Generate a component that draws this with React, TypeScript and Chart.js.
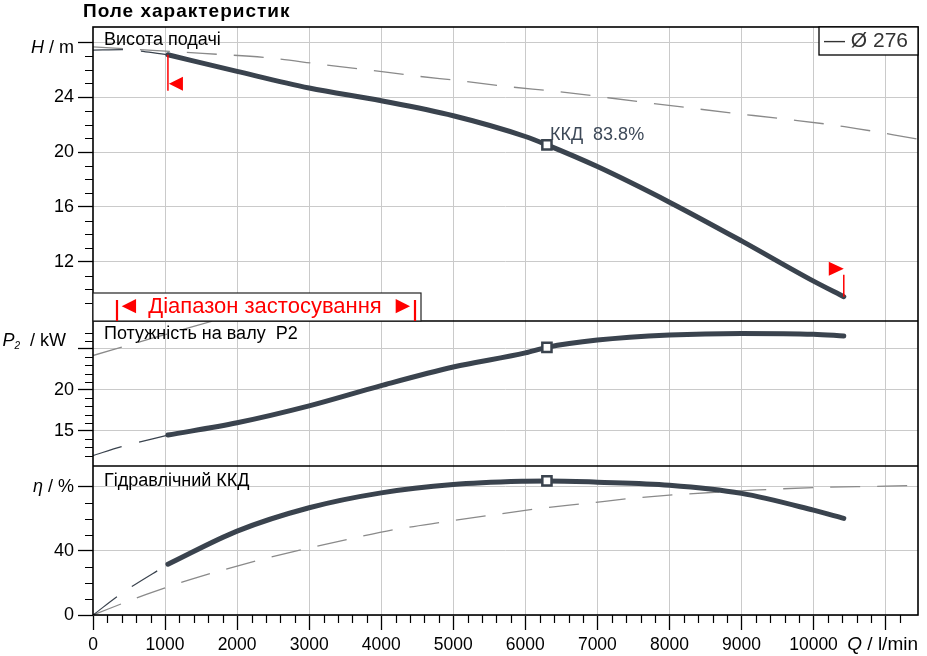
import React, { useEffect, useRef } from 'react';
import Chart from 'chart.js/auto';

// operating curve, flow in l/min
const flowMain = [1040, 2000, 3000, 4000, 5000, 6000, 6300, 7000, 8000, 9000, 10000, 10420];
const headMain = [27.08, 25.87, 24.66, 23.73, 22.64, 21.13, 20.52, 18.94, 16.35, 13.53, 10.6, 9.47];
const powerMain = [14.5, 16.0, 18.06, 20.53, 22.8, 24.52, 25.2, 26.08, 26.7, 26.9, 26.8, 26.58];
const effMain = [31.7, 52.4, 67.0, 76.3, 81.5, 83.6, 83.8, 83.0, 81.1, 76.0, 65.5, 60.4];

// thin dashed continuation down to zero flow
const flowExt = [0, 400, 1040];
const headExt = [27.42, 27.45, 27.08];
const powerExt = [12.0, 13.1, 14.5];
const effExt = [0, 13.6, 31.7];

// grey dashed reference curves
const flowRefHead = [0, 1520, 2470, 3140, 3800, 4460, 5120, 5780, 6440, 7550, 8200, 8850, 9560, 10430, 11450];
const headRef = [27.65, 27.18, 26.84, 26.4, 25.99, 25.55, 25.17, 24.75, 24.41, 23.68, 23.26, 22.85, 22.42, 21.85, 20.93];
const flowRefPower = [0, 800, 1660];
const powerRef = [24.2, 26.25, 28.4];
const flowRefEff = [0, 740, 1370, 2270, 2910, 3560, 4200, 4880, 5540, 6190, 6840, 7500, 8200, 9170, 10110, 11000, 11450];
const effRef = [0, 12.9, 22.4, 33.9, 41.0, 47.5, 53.5, 58.2, 62.5, 66.5, 69.7, 73.0, 75.5, 78.0, 79.8, 80.5, 81.1];

const dutyFlow = 6300;
const dutyLabel = 'ККД  83.8%';
const diameterLabel = '— Ø 276';

const xTickLabels = [0, 1000, 2000, 3000, 4000, 5000, 6000, 7000, 8000, 9000, 10000];
const headTickLabels = [8, 12, 16, 20, 24];
const powerTickLabels = [15, 20];
const effTickLabels = [0, 40];

const FONT = '"Liberation Sans", Arial, Helvetica, sans-serif';
const DARK = '#3a434e';
const GREY = '#8a8a8a';
const GRID = '#cacaca';
const RED = '#ff0000';
const CLEAR = 'rgba(0,0,0,0)';

const onStep = (v: number, step: number) => Math.abs(v / step - Math.round(v / step)) < 1e-6;
const pts = (xs: number[], ys: number[]) => xs.map((x, i) => ({ x, y: ys[i] }));

const panelScale = (min: number, max: number, step: number, major: number, labels: number[], weight: number, stackWeight: number) => ({
    type: 'linear',
    position: 'left',
    stack: 'panels',
    stackWeight,
    weight,
    min,
    max,
    afterFit: (s: any) => { s.width = 93; },
    border: { display: false },
    grid: {
        color: (c: any) => (c.tick && onStep(c.tick.value, major) ? GRID : CLEAR),
        tickColor: (c: any) => (c.tick && onStep(c.tick.value, major) ? '#000' : CLEAR),
        tickLength: 15,
        tickWidth: 1.3,
        lineWidth: 1,
    },
    ticks: {
        stepSize: step,
        autoSkip: false,
        padding: 4,
        color: '#000',
        font: { family: FONT, size: 18 },
        callback: (v: any) => (labels.includes(v) ? String(v) : ''),
    },
});

const mainLine = (data: any[], yAxisID: string) => ({
    data, yAxisID, borderColor: DARK, borderWidth: 5, borderCapStyle: 'round', borderJoinStyle: 'round',
    pointRadius: 0, cubicInterpolationMode: 'monotone', order: 2,
});
const extLine = (data: any[], yAxisID: string) => ({
    data, yAxisID, borderColor: DARK, borderWidth: 1.2, borderDash: [30, 18],
    pointRadius: 0, cubicInterpolationMode: 'monotone', order: 3,
});
const refLine = (data: any[], yAxisID: string) => ({
    data, yAxisID, borderColor: GREY, borderWidth: 1.3, borderDash: [30, 17],
    pointRadius: 0, cubicInterpolationMode: 'monotone', order: 4,
});
const marker = (x: number, y: number, yAxisID: string) => ({
    data: [{ x, y }], yAxisID, showLine: false, pointStyle: 'rect', pointRadius: 6.5, pointBorderWidth: 2.5,
    pointBorderColor: DARK, pointBackgroundColor: '#fff', order: 1,
});

// draws text pieces with different fonts, right aligned
function drawParts(ctx: CanvasRenderingContext2D, parts: [string, string, number][], right: number, base: number) {
    let w = 0;
    for (const [t, f] of parts) { ctx.font = f; w += ctx.measureText(t).width; }
    let x = right - w;
    ctx.textAlign = 'left';
    for (const [t, f, dy] of parts) {
        ctx.font = f;
        ctx.fillText(t, x, base + dy);
        x += ctx.measureText(t).width;
    }
}

const overlay = {
    id: 'overlay',
    afterDraw(chart: any) {
        const { ctx, chartArea: a } = chart;
        const xs = chart.scales.x, yH = chart.scales.yH, yP = chart.scales.yP, yE = chart.scales.yE;
        ctx.save();

        // minor tick marks
        ctx.strokeStyle = '#000';
        ctx.lineWidth = 1.2;
        ctx.beginPath();
        for (const t of xs.ticks) {
            if (!onStep(t.value, 200) || onStep(t.value, 1000)) continue;
            const p = Math.round(xs.getPixelForValue(t.value)) + 0.5;
            ctx.moveTo(p, a.bottom); ctx.lineTo(p, a.bottom + 8);
        }
        for (const [s, step, major] of [[yH, 1, 4], [yP, 1, 5], [yE, 10, 40]] as any[]) {
            for (const t of s.ticks) {
                if (!onStep(t.value, step) || onStep(t.value, major)) continue;
                const p = Math.round(s.getPixelForValue(t.value)) + 0.5;
                ctx.moveTo(s.right - 8, p); ctx.lineTo(s.right, p);
            }
        }
        ctx.stroke();

        // panel separators and frame
        ctx.lineWidth = 1.3;
        ctx.beginPath();
        ctx.moveTo(a.left, yP.top); ctx.lineTo(a.right, yP.top);
        ctx.moveTo(a.left, yE.top); ctx.lineTo(a.right, yE.top);
        ctx.stroke();
        ctx.lineWidth = 1.6;
        ctx.strokeRect(a.left, a.top, a.right - a.left, a.bottom - a.top);

        // title
        ctx.fillStyle = '#000';
        ctx.textBaseline = 'alphabetic';
        ctx.textAlign = 'left';
        ctx.font = `bold 19px ${FONT}`;
        ctx.letterSpacing = '1px';
        ctx.fillText('Поле характеристик', a.left - 10, a.top - 10);
        ctx.letterSpacing = '0px';

        // panel labels
        ctx.font = `18px ${FONT}`;
        ctx.fillText('Висота подачі', a.left + 11, yH.top + 18);
        ctx.fillText('Потужність на валу  P2', a.left + 11, yP.top + 18);
        ctx.fillText('Гідравлічний ККД', a.left + 11, yE.top + 20);

        // axis titles
        const it = `italic 18px ${FONT}`, nf = `18px ${FONT}`;
        drawParts(ctx, [['H', it, 0], [' / m', nf, 0]], 74, yH.top + 26);
        drawParts(ctx, [['P', it, 0], ['2', `italic 10px ${FONT}`, 3], ['  / kW', nf, 0]], 66, yP.top + 25);
        drawParts(ctx, [['η', it, 0], [' / %', nf, 0]], 74, yE.top + 26);
        drawParts(ctx, [['Q', `italic 19px ${FONT}`, 0], [' / l/min', `19px ${FONT}`, 0]], a.right, a.bottom + 35);

        // diameter legend
        ctx.fillStyle = '#fff';
        ctx.fillRect(a.right - 99, a.top, 99, 28);
        ctx.strokeStyle = '#000';
        ctx.lineWidth = 1.3;
        ctx.strokeRect(a.right - 99, a.top, 99, 28);
        ctx.fillStyle = '#333';
        ctx.font = `21px ${FONT}`;
        ctx.textAlign = 'left';
        ctx.fillText(diameterLabel, a.right - 94, a.top + 20);

        // operating range box
        const bx = a.left, by = yP.top - 28, bw = 328, bh = 28;
        ctx.fillStyle = '#fff';
        ctx.fillRect(bx, by, bw, bh);
        ctx.strokeStyle = '#222';
        ctx.lineWidth = 1.2;
        ctx.strokeRect(bx, by, bw, bh);
        ctx.strokeStyle = RED;
        ctx.lineWidth = 2.2;
        ctx.beginPath();
        ctx.moveTo(bx + 24, by + 7); ctx.lineTo(bx + 24, by + bh);
        ctx.moveTo(bx + 322, by + 7); ctx.lineTo(bx + 322, by + bh);
        ctx.stroke();
        ctx.fillStyle = RED;
        ctx.font = `24px ${FONT}`;
        ctx.textAlign = 'center';
        ctx.fillText('◄', bx + 36, by + 20);
        ctx.fillText('►', bx + 310, by + 20);
        ctx.font = `22px ${FONT}`;
        ctx.fillText('Діапазон застосування', bx + 172, by + 20);

        // red limits of the operating range
        const x0 = xs.getPixelForValue(flowMain[0]), y0 = yH.getPixelForValue(headMain[0]);
        const n = flowMain.length - 1;
        const x1 = xs.getPixelForValue(flowMain[n]), y1 = yH.getPixelForValue(headMain[n]);
        ctx.strokeStyle = RED;
        ctx.lineWidth = 1.5;
        ctx.beginPath();
        ctx.moveTo(x0, y0); ctx.lineTo(x0, y0 + 36);
        ctx.moveTo(x1, y1); ctx.lineTo(x1, y1 - 22);
        ctx.stroke();
        ctx.beginPath();
        ctx.moveTo(x0 + 1, y0 + 29); ctx.lineTo(x0 + 15, y0 + 22); ctx.lineTo(x0 + 15, y0 + 36); ctx.closePath();
        ctx.moveTo(x1, y1 - 28); ctx.lineTo(x1 - 15, y1 - 35); ctx.lineTo(x1 - 15, y1 - 21); ctx.closePath();
        ctx.fill();

        // duty point label
        const di = flowMain.indexOf(dutyFlow);
        const dx = xs.getPixelForValue(dutyFlow), dy = yH.getPixelForValue(headMain[di]);
        ctx.fillStyle = '#3d4958';
        ctx.font = `18px ${FONT}`;
        ctx.textAlign = 'left';
        ctx.fillText(dutyLabel, dx + 3, dy - 5);

        ctx.restore();
    },
};

export default function App() {
    const chartRef = useRef<HTMLCanvasElement>(null);
    const chartInstance = useRef<Chart | null>(null);

    useEffect(() => {
        if (!chartRef.current) return;
        if (chartInstance.current) chartInstance.current.destroy();
        const ctx = chartRef.current.getContext('2d');
        if (!ctx) return;

        const di = flowMain.indexOf(dutyFlow);

        chartInstance.current = new Chart(ctx, {
            type: 'line',
            data: {
                datasets: [
                    mainLine(pts(flowMain, headMain), 'yH'),
                    mainLine(pts(flowMain, powerMain), 'yP'),
                    mainLine(pts(flowMain, effMain), 'yE'),
                    extLine(pts(flowExt, headExt), 'yH'),
                    extLine(pts(flowExt, powerExt), 'yP'),
                    extLine(pts(flowExt, effExt), 'yE'),
                    refLine(pts(flowRefHead, headRef), 'yH'),
                    refLine(pts(flowRefPower, powerRef), 'yP'),
                    refLine(pts(flowRefEff, effRef), 'yE'),
                    marker(dutyFlow, headMain[di], 'yH'),
                    marker(dutyFlow, powerMain[di], 'yP'),
                    marker(dutyFlow, effMain[di], 'yE'),
                ],
            },
            options: {
                animation: false,
                responsive: true,
                maintainAspectRatio: false,
                layout: { padding: { top: 27, right: 6, left: 0, bottom: 0 } },
                plugins: { legend: { display: false }, tooltip: { enabled: false } },
                scales: {
                    x: {
                        type: 'linear',
                        position: 'bottom',
                        min: 0,
                        max: 11450,
                        afterFit: (s: any) => { s.height = 41; },
                        border: { display: false },
                        grid: {
                            color: (c: any) => (c.tick && c.tick.value > 0 && onStep(c.tick.value, 1000) ? GRID : CLEAR),
                            tickColor: (c: any) => (c.tick && onStep(c.tick.value, 1000) ? '#000' : CLEAR),
                            tickLength: 15,
                            tickWidth: 1.3,
                        },
                        ticks: {
                            stepSize: 200,
                            autoSkip: false,
                            maxRotation: 0,
                            minRotation: 0,
                            padding: 5,
                            color: '#000',
                            font: { family: FONT, size: 17.5 },
                            callback: (v: any) => (xTickLabels.includes(v) ? String(v) : ''),
                        },
                    },
                    yH: panelScale(7.7, 29.1, 1, 4, headTickLabels, 3, 294),
                    yP: panelScale(10.73, 28.41, 1, 5, powerTickLabels, 2, 145),
                    yE: panelScale(0, 93.1, 10, 40, effTickLabels, 1, 149),
                },
            } as any,
            plugins: [overlay],
        } as any);

        return () => {
            if (chartInstance.current) {
                chartInstance.current.destroy();
                chartInstance.current = null;
            }
        };
    }, []);

    return (
        <div style={{ position: 'fixed', left: 0, top: 0, width: 927, height: 656, background: '#fff' }}>
            <canvas ref={chartRef}></canvas>
        </div>
    );
}
